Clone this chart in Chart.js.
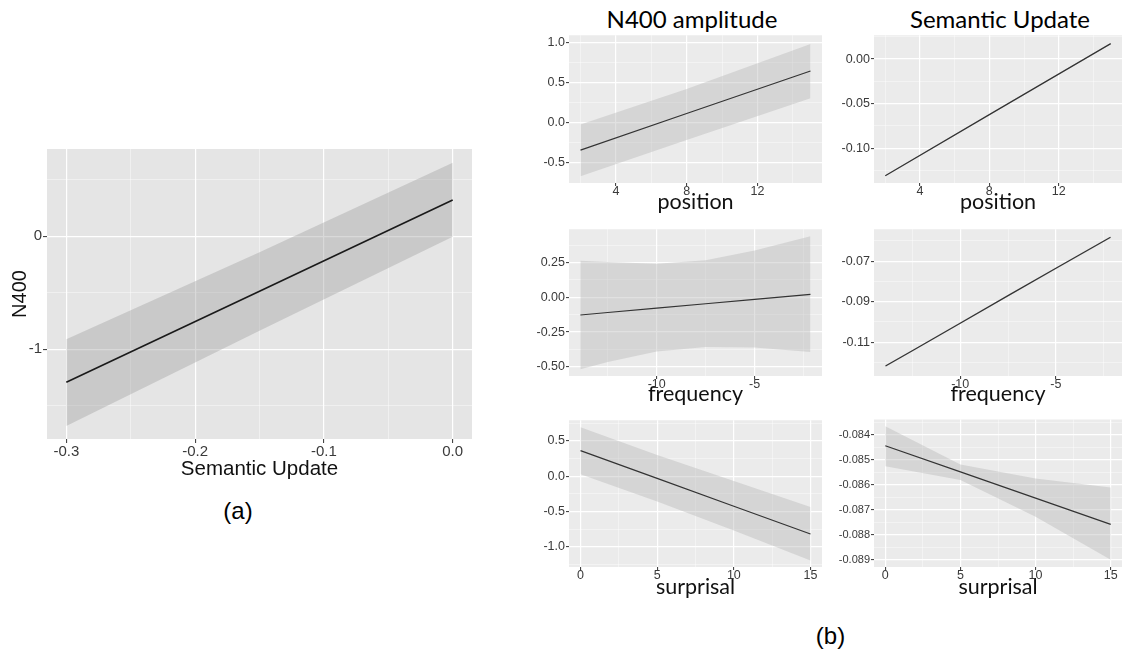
<!DOCTYPE html>
<html lang="en">
<head>
<meta charset="UTF-8">
<title>N400 amplitude and Semantic Update effects</title>
<script src="https://cdn.jsdelivr.net/npm/chart.js"></script>
<style>
  html, body { margin:0; padding:0; background:#fff; }
  body { width:1122px; height:653px; position:relative; overflow:hidden; }
  .panel { position:absolute; }
  .label { position:absolute; white-space:nowrap; line-height:1.2; color:#000; transform:translateX(-50%); }
  .title { font-family: Lato, "Noto Sans", sans-serif; font-size:24px; top:4.6px; }
  .tag { font-family: "Liberation Sans", Arial, sans-serif; font-size:24px; }
</style>
</head>
<body>

<!-- (a) -->
<div class="panel" style="left:0;top:139px;width:480px;height:343px"><canvas id="chartA"></canvas></div>
<div class="label tag" style="left:238px;top:496.5px">(a)</div>

<!-- (b) column titles -->
<div class="label title" style="left:692px">N400 amplitude</div>
<div class="label title" style="left:1000px">Semantic Update</div>

<div class="panel" style="left:525px;top:28px;width:301px;height:187px"><canvas id="chartPosN400"></canvas></div>
<div class="panel" style="left:820px;top:28px;width:302px;height:187px"><canvas id="chartPosSem"></canvas></div>
<div class="panel" style="left:525px;top:222px;width:301px;height:185px"><canvas id="chartFreqN400"></canvas></div>
<div class="panel" style="left:820px;top:222px;width:302px;height:185px"><canvas id="chartFreqSem"></canvas></div>
<div class="panel" style="left:525px;top:413px;width:301px;height:187px"><canvas id="chartSurpN400"></canvas></div>
<div class="panel" style="left:820px;top:413px;width:302px;height:187px"><canvas id="chartSurpSem"></canvas></div>
<div class="label tag" style="left:830.5px;top:621.5px">(b)</div>

<script>
// ---------- data ----------

// (a) N400 ~ Semantic Update
const aX = [-0.3, -0.15, 0.0];
const aFit = [-1.292, -0.486, 0.321];
const aUpper = [-0.912, -0.14, 0.651];
const aLower = [-1.68, -0.835, -0.003];
const aXMajor = [-0.3, -0.2, -0.1, 0.0];
const aXMinor = [-0.25, -0.15, -0.05];
const aXLabels = ['-0.3', '-0.2', '-0.1', '0.0'];
const aYMajor = [-1, 0];
const aYMinor = [-1.5, -0.5, 0.5];
const aYLabels = ['-1', '0'];

// (b) position
const posX = [2, 8, 15];
const posN400Fit = [-0.34, 0.115, 0.645];
const posN400Upper = [-0.02, 0.42, 0.98];
const posN400Lower = [-0.667, -0.215, 0.305];
const posSemFit = [-0.1308, -0.0623, 0.0173];
const posSemUpper = [-0.1302, -0.0617, 0.0179];
const posSemLower = [-0.1314, -0.0629, 0.0167];
const posXMajor = [4, 8, 12];
const posXMinor = [2, 6, 10, 14];
const posXLabels = ['4', '8', '12'];
const posN400YMajor = [-0.5, 0, 0.5, 1.0];
const posN400YMinor = [-0.25, 0.25, 0.75];
const posN400YLabels = ['-0.5', '0.0', '0.5', '1.0'];
const posSemYMajor = [-0.10, -0.05, 0.00];
const posSemYMinor = [-0.125, -0.075, -0.025, 0.025];
const posSemYLabels = ['-0.10', '-0.05', '0.00'];

// (b) frequency
const freqX = [-13.9, -12.5, -10, -7.5, -5, -2.15];
const freqN400Fit = [-0.127, -0.109, -0.078, -0.046, -0.015, 0.021];
const freqN400Upper = [0.264, 0.255, 0.241, 0.267, 0.337, 0.439];
const freqN400Lower = [-0.517, -0.465, -0.389, -0.358, -0.361, -0.394];
const freqSemFit = [-0.1218, -0.1142, -0.1006, -0.0870, -0.0735, -0.0582];
const freqSemUpper = [-0.1214, -0.1138, -0.1002, -0.0866, -0.0731, -0.0578];
const freqSemLower = [-0.1222, -0.1146, -0.1010, -0.0874, -0.0739, -0.0586];
const freqXMajor = [-10, -5];
const freqXMinor = [-12.5, -7.5, -2.5];
const freqXLabels = ['-10', '-5'];
const freqN400YMajor = [-0.5, -0.25, 0, 0.25];
const freqN400YMinor = [-0.375, -0.125, 0.125, 0.375];
const freqN400YLabels = ['-0.50', '-0.25', '0.00', '0.25'];
const freqSemYMajor = [-0.11, -0.09, -0.07];
const freqSemYMinor = [-0.12, -0.10, -0.08, -0.06];
const freqSemYLabels = ['-0.11', '-0.09', '-0.07'];

// (b) surprisal
const surpX = [0, 5, 10, 15];
const surpN400Fit = [0.363, -0.031, -0.426, -0.82];
const surpN400Upper = [0.693, 0.30, -0.07, -0.438];
const surpN400Lower = [0.028, -0.36, -0.77, -1.197];
const surpSemFit = [-0.08445, -0.08549, -0.08654, -0.08759];
const surpSemUpper = [-0.08367, -0.08520, -0.08576, -0.08612];
const surpSemLower = [-0.08527, -0.08582, -0.08728, -0.08900];
const surpXMajor = [0, 5, 10, 15];
const surpXMinor = [2.5, 7.5, 12.5];
const surpXLabels = ['0', '5', '10', '15'];
const surpN400YMajor = [-1.0, -0.5, 0, 0.5];
const surpN400YMinor = [-1.25, -0.75, -0.25, 0.25, 0.75];
const surpN400YLabels = ['-1.0', '-0.5', '0.0', '0.5'];
const surpSemYMajor = [-0.089, -0.088, -0.087, -0.086, -0.085, -0.084];
const surpSemYMinor = [-0.0885, -0.0875, -0.0865, -0.0855, -0.0845, -0.0835];
const surpSemYLabels = ['-0.089', '-0.088', '-0.087', '-0.086', '-0.085', '-0.084'];

// ---------- helpers ----------
const SANS = '"Liberation Sans", Arial, sans-serif';
const GEO = 'Lato, "Noto Sans", sans-serif';

function pts(xs, ys) { return xs.map((x, i) => ({ x: x, y: ys[i] })); }
function majorIndex(v, majors) { return majors.findIndex(m => Math.abs(m - v) < 1e-9); }

// grey panel background behind the grid
const plotBg = {
  id: 'plotBg',
  beforeDraw(chart, args, opts) {
    const { ctx, chartArea: a } = chart;
    ctx.save();
    ctx.fillStyle = opts.color;
    ctx.fillRect(a.left, a.top, a.right - a.left, a.bottom - a.top);
    ctx.restore();
  }
};

function makeScale(o) {
  const all = o.major.concat(o.minor).filter(v => v >= o.min && v <= o.max).sort((p, q) => p - q);
  const major = c => majorIndex(c.tick.value, o.major) >= 0;
  return {
    type: 'linear',
    min: o.min,
    max: o.max,
    afterBuildTicks: s => { s.ticks = all.map(v => ({ value: v })); },
    afterFit: s => {
      if (o.width) s.width = o.width;
      if (o.height) s.height = o.height;
    },
    border: { display: false },
    grid: {
      color: c => major(c) ? '#ffffff' : 'rgba(255,255,255,0.7)',
      lineWidth: c => major(c) ? 1.2 : 0.6,
      tickLength: o.tickLength,
      tickColor: c => major(c) ? '#333333' : 'rgba(0,0,0,0)',
      tickWidth: 1
    },
    ticks: {
      autoSkip: false,
      maxRotation: 0,
      padding: o.padding,
      color: '#3a3a3a',
      font: { family: SANS, size: o.size, lineHeight: 1 },
      callback: v => {
        const i = majorIndex(v, o.major);
        return i < 0 ? '' : o.labels[i];
      }
    },
    title: o.title ? {
      display: true,
      text: o.title,
      color: '#111111',
      padding: o.titlePadding || 0,
      font: { family: o.titleFont, size: o.titleSize, lineHeight: 1.2 }
    } : { display: false }
  };
}

function makePanel(id, d) {
  new Chart(document.getElementById(id), {
    type: 'line',
    data: {
      datasets: [
        { data: pts(d.x, d.fit), borderColor: d.lineColor, borderWidth: d.lineWidth, pointRadius: 0, fill: false },
        { data: pts(d.x, d.upper), borderColor: 'rgba(0,0,0,0)', borderWidth: 0, pointRadius: 0,
          backgroundColor: d.ribbon, fill: '+1' },
        { data: pts(d.x, d.lower), borderColor: 'rgba(0,0,0,0)', borderWidth: 0, pointRadius: 0, fill: false }
      ]
    },
    options: {
      responsive: true,
      maintainAspectRatio: false,
      animation: false,
      layout: { padding: { top: d.padTop, right: d.padRight, left: 0, bottom: 0 } },
      plugins: { legend: { display: false }, tooltip: { enabled: false }, plotBg: { color: d.bg } },
      scales: { x: d.xScale, y: d.yScale }
    },
    plugins: [plotBg]
  });
}

// ---------- (a) ----------
makePanel('chartA', {
  x: aX, fit: aFit, upper: aUpper, lower: aLower,
  lineColor: '#1a1a1a', lineWidth: 1.6, ribbon: 'rgba(160,160,160,0.4)', bg: '#e5e5e5',
  padTop: 10, padRight: 8,
  xScale: makeScale({ min: -0.315, max: 0.015, major: aXMajor, minor: aXMinor, labels: aXLabels,
    size: 15, tickLength: 4, padding: 1, height: 43,
    title: 'Semantic Update', titleFont: SANS, titleSize: 20.5 }),
  yScale: makeScale({ min: -1.794, max: 0.773, major: aYMajor, minor: aYMinor, labels: aYLabels,
    size: 15, tickLength: 4, padding: 1, width: 47,
    title: 'N400', titleFont: SANS, titleSize: 20, titlePadding: { top: 8.4 } })
});

// ---------- (b) ----------
const B_RIBBON = 'rgba(180,180,180,0.4)';
const B_BG = '#ebebeb';

function bPanel(id, col, x, fit, upper, lower, xr, yr, xTitle, tickSize) {
  makePanel(id, {
    x: x, fit: fit, upper: upper, lower: lower,
    lineColor: '#333333', lineWidth: 1.2, ribbon: B_RIBBON, bg: B_BG,
    padTop: 5, padRight: col === 0 ? 4 : 0,
    xScale: makeScale(Object.assign({ size: 12.5, tickLength: 3, padding: -1, height: xr.h,
      title: xTitle, titleFont: GEO, titleSize: 21.5 }, xr)),
    yScale: makeScale(Object.assign({ size: tickSize, tickLength: 3, padding: 1, width: col === 0 ? 44 : 54 }, yr))
  });
}

bPanel('chartPosN400', 0, posX, posN400Fit, posN400Upper, posN400Lower,
  { min: 1.35, max: 15.65, major: posXMajor, minor: posXMinor, labels: posXLabels, h: 32 },
  { min: -0.75, max: 1.09, major: posN400YMajor, minor: posN400YMinor, labels: posN400YLabels },
  'position', 12.5);
bPanel('chartPosSem', 1, posX, posSemFit, posSemUpper, posSemLower,
  { min: 1.35, max: 15.65, major: posXMajor, minor: posXMinor, labels: posXLabels, h: 32 },
  { min: -0.139, max: 0.0267, major: posSemYMajor, minor: posSemYMinor, labels: posSemYLabels },
  'position', 12.5);
bPanel('chartFreqN400', 0, freqX, freqN400Fit, freqN400Upper, freqN400Lower,
  { min: -14.48, max: -1.56, major: freqXMajor, minor: freqXMinor, labels: freqXLabels, h: 31 },
  { min: -0.566, max: 0.49, major: freqN400YMajor, minor: freqN400YMinor, labels: freqN400YLabels },
  'frequency', 12.5);
bPanel('chartFreqSem', 1, freqX, freqSemFit, freqSemUpper, freqSemLower,
  { min: -14.5, max: -1.55, major: freqXMajor, minor: freqXMinor, labels: freqXLabels, h: 31 },
  { min: -0.1267, max: -0.0542, major: freqSemYMajor, minor: freqSemYMinor, labels: freqSemYLabels },
  'frequency', 12.5);
bPanel('chartSurpN400', 0, surpX, surpN400Fit, surpN400Upper, surpN400Lower,
  { min: -0.75, max: 15.75, major: surpXMajor, minor: surpXMinor, labels: surpXLabels, h: 33 },
  { min: -1.288, max: 0.793, major: surpN400YMajor, minor: surpN400YMinor, labels: surpN400YLabels },
  'surprisal', 12.5);
bPanel('chartSurpSem', 1, surpX, surpSemFit, surpSemUpper, surpSemLower,
  { min: -0.75, max: 15.75, major: surpXMajor, minor: surpXMinor, labels: surpXLabels, h: 33 },
  { min: -0.08929, max: -0.0834, major: surpSemYMajor, minor: surpSemYMinor, labels: surpSemYLabels },
  'surprisal', 11);
</script>
</body>
</html>
